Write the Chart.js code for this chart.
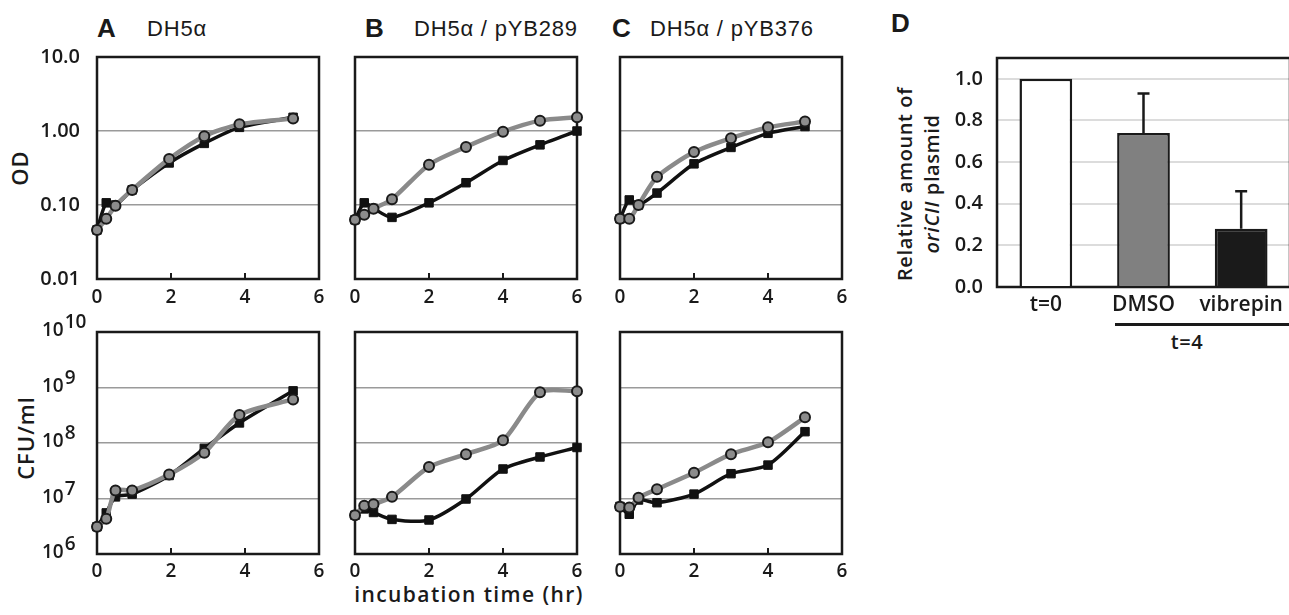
<!DOCTYPE html>
<html>
<head>
<meta charset="utf-8">
<script src="https://cdn.jsdelivr.net/npm/chart.js@4"></script>
<style>
    body { margin: 0; width: 1289px; height: 615px; overflow: hidden; background: #fff; position: relative; font-family: 'Open Sans', sans-serif; color: #1a1a1a; }
    canvas { position: absolute; }
    .lbl { position: absolute; white-space: nowrap; line-height: 1; }
    .head { font-family: 'Liberation Sans', Arial, sans-serif; }
    .letter { font-weight: bold; font-size: 26px; }
    .strain { font-size: 22px; letter-spacing: 0.8px; }
    .axt { font-weight: 600; font-size: 20px; }
    .rot { transform: translate(-50%, -50%) rotate(-90deg); text-align: center; }
</style>
</head>
<body>

<div class="lbl head letter" style="left:97px;top:15px">A</div>
<div class="lbl head strain" style="left:147px;top:18px">DH5α</div>
<div class="lbl head letter" style="left:365px;top:15px">B</div>
<div class="lbl head strain" style="left:414px;top:18px">DH5α / pYB289</div>
<div class="lbl head letter" style="left:612px;top:15px">C</div>
<div class="lbl head strain" style="left:650px;top:18px">DH5α / pYB376</div>
<div class="lbl head letter" style="left:891px;top:10px">D</div>

<div class="lbl axt rot" style="left:19px;top:168px;font-size:22px;letter-spacing:1px">OD</div>
<div class="lbl axt rot" style="left:25px;top:438px;font-size:22px;letter-spacing:1px">CFU/ml</div>
<div class="lbl axt" style="left:469px;top:584px;transform:translateX(-50%);font-size:21px;letter-spacing:1.4px">incubation time (hr)</div>
<div class="lbl axt rot" style="left:918px;top:184px;line-height:27px;letter-spacing:0.6px">
    <div>Relative amount of</div>
    <div><i>oriCII</i> plasmid</div>
</div>
<div style="position:absolute;left:1115px;top:323px;width:180px;height:3px;background:#1a1a1a"></div>
<div class="lbl axt" style="left:1187px;top:342px;transform:translate(-50%,-50%);letter-spacing:0.6px">t=4</div>

<canvas id="odA" width="339" height="292" style="left:0px;top:27px"></canvas>
<canvas id="odB" width="272" height="292" style="left:325px;top:27px"></canvas>
<canvas id="odC" width="272" height="292" style="left:590px;top:27px"></canvas>
<canvas id="cfuA" width="339" height="292" style="left:0px;top:302px"></canvas>
<canvas id="cfuB" width="272" height="292" style="left:325px;top:302px"></canvas>
<canvas id="cfuC" width="272" height="292" style="left:590px;top:302px"></canvas>
<canvas id="plasmid" width="430" height="299" style="left:870px;top:28px"></canvas>

<script>
// --- данные ---
const xTickValues = [0, 2, 4, 6];
const odTickValues = [0.01, 0.1, 1, 10];
const odTickLabels = ['0.01', '0.10', '1.00', '10.0'];
const cfuTickExponents = [6, 7, 8, 9, 10];

// A: DH5α
const timeA = [0, 0.25, 0.5, 0.95, 1.95, 2.9, 3.85, 5.3];
const odA_gray = [0.046, 0.065, 0.098, 0.16, 0.42, 0.85, 1.23, 1.47];
const odA_black = [0.046, 0.107, 0.10, 0.16, 0.37, 0.68, 1.12, 1.53];
const cfuA_gray = [3.1e6, 4.3e6, 1.4e7, 1.4e7, 2.7e7, 6.7e7, 3.2e8, 6.1e8];
const cfuA_black = [3.1e6, 5.5e6, 1.07e7, 1.2e7, 2.6e7, 8.0e7, 2.3e8, 8.7e8];

// B: DH5α / pYB289
const timeB = [0, 0.25, 0.5, 1, 2, 3, 4, 5, 6];
const odB_gray = [0.063, 0.074, 0.089, 0.12, 0.35, 0.61, 0.98, 1.38, 1.53];
const odB_black = [0.063, 0.107, 0.09, 0.068, 0.107, 0.20, 0.40, 0.65, 1.0];
const cfuB_gray = [5.0e6, 7.4e6, 7.9e6, 1.07e7, 3.7e7, 6.3e7, 1.12e8, 8.2e8, 8.6e8];
const cfuB_black = [5.0e6, 6.5e6, 5.6e6, 4.2e6, 4.1e6, 9.8e6, 3.4e7, 5.6e7, 8.3e7];

// C: DH5α / pYB376
const timeC = [0, 0.25, 0.5, 1, 2, 3, 4, 5];
const odC_gray = [0.065, 0.065, 0.10, 0.24, 0.52, 0.80, 1.12, 1.34];
const odC_black = [0.065, 0.117, 0.10, 0.145, 0.36, 0.60, 0.93, 1.15];
const cfuC_gray = [7.1e6, 6.9e6, 1.03e7, 1.47e7, 2.9e7, 6.3e7, 1.03e8, 2.9e8];
const cfuC_black = [7.2e6, 5.2e6, 9.4e6, 8.4e6, 1.2e7, 2.8e7, 4.0e7, 1.6e8];

// D: плазмида oriCII
const plasmidLabels = ['t=0', 'DMSO', 'vibrepin'];
const plasmidValues = [1.0, 0.74, 0.28];
const plasmidErrors = [0, 0.19, 0.18];
const plasmidTicks = [0, 0.2, 0.4, 0.6, 0.8, 1.0];

const INK = '#1a1a1a';
const tickFont = { family: 'Open Sans', weight: '600', size: 20 };

// рамка вокруг области графика + внутренние засечки по оси x
const framePlugin = {
    id: 'frame',
    beforeDatasetsDraw(chart, args, opts) {
        const { ctx, chartArea: a } = chart;
        ctx.save();
        ctx.strokeStyle = INK;
        ctx.lineWidth = 2.5;
        ctx.strokeRect(a.left, a.top, a.right - a.left, a.bottom - a.top);
        if (opts.innerTicks) {
            const x = chart.scales.x;
            ctx.lineWidth = 2;
            [2, 4].forEach(v => {
                const px = x.getPixelForValue(v);
                ctx.beginPath();
                ctx.moveTo(px, a.bottom);
                ctx.lineTo(px, a.bottom - 6);
                ctx.stroke();
            });
        }
        ctx.restore();
    }
};

// подписи 10^n для CFU
const cfuLabelPlugin = {
    id: 'cfuLabels',
    afterDraw(chart, args, opts) {
        if (!opts.show) return;
        const ctx = chart.ctx;
        const y = chart.scales.y;
        ctx.save();
        ctx.fillStyle = INK;
        ctx.font = '600 19px "Open Sans"';
        ctx.textBaseline = 'middle';
        ctx.textAlign = 'left';
        cfuTickExponents.forEach(e => {
            const py = y.getPixelForValue(Math.pow(10, e)) - 1;
            ctx.fillText('10', 42, py);
            const w = ctx.measureText('10').width;
            ctx.fillText(String(e), 42 + w + 1, py - 8);
        });
        ctx.restore();
    }
};

// планки погрешностей (только вверх)
const errorBarPlugin = {
    id: 'errorBars',
    afterDatasetsDraw(chart) {
        const ctx = chart.ctx;
        const y = chart.scales.y;
        const meta = chart.getDatasetMeta(0);
        ctx.save();
        ctx.strokeStyle = INK;
        ctx.lineWidth = 2.5;
        plasmidErrors.forEach((err, i) => {
            if (!err) return;
            const px = meta.data[i].x;
            const yBar = y.getPixelForValue(plasmidValues[i]);
            const yTop = y.getPixelForValue(plasmidValues[i] + err);
            ctx.beginPath();
            ctx.moveTo(px, yBar);
            ctx.lineTo(px, yTop);
            ctx.moveTo(px - 6, yTop);
            ctx.lineTo(px + 6, yTop);
            ctx.stroke();
        });
        ctx.restore();
    }
};

function toPoints(times, vals) {
    return times.map((t, i) => ({ x: t, y: vals[i] }));
}

function makeLinePanel(id, times, grayVals, blackVals, kind, isFirst) {
    const isOD = kind === 'od';
    const yW = isFirst ? 97 : 30;
    const yMin = isOD ? 0.01 : 1e6;
    const yMax = isOD ? 10 : 1e10;

    new Chart(document.getElementById(id), {
        type: 'line',
        data: {
            datasets: [
                {
                    data: toPoints(times, grayVals),
                    borderColor: '#8a8a8a',
                    borderWidth: 4.5,
                    pointStyle: 'circle',
                    pointRadius: 5,
                    pointBackgroundColor: '#8c8c8c',
                    pointBorderColor: INK,
                    pointBorderWidth: 2,
                    tension: 0.25,
                    clip: false
                },
                {
                    data: toPoints(times, blackVals),
                    borderColor: '#111',
                    borderWidth: 3.5,
                    pointStyle: 'rect',
                    pointRadius: 6,
                    pointBackgroundColor: '#111',
                    pointBorderColor: '#111',
                    pointBorderWidth: 1,
                    tension: 0.25,
                    clip: false
                }
            ]
        },
        options: {
            responsive: false,
            animation: false,
            layout: { padding: { top: 30, right: 20, left: 0, bottom: 0 } },
            plugins: {
                legend: { display: false },
                tooltip: { enabled: false },
                frame: { innerTicks: true },
                cfuLabels: { show: !isOD && isFirst }
            },
            scales: {
                x: {
                    type: 'linear',
                    min: 0,
                    max: 6,
                    afterBuildTicks: s => { s.ticks = xTickValues.map(v => ({ value: v })); },
                    afterFit: s => { s.height = 40; },
                    grid: { display: false, drawTicks: false },
                    border: { display: false },
                    ticks: { font: { family: 'Open Sans', weight: '600', size: 19 }, color: INK, padding: isOD ? 7 : 6, maxRotation: 0 }
                },
                y: {
                    type: 'logarithmic',
                    min: yMin,
                    max: yMax,
                    afterBuildTicks: s => {
                        s.ticks = isOD
                            ? odTickValues.map(v => ({ value: v }))
                            : cfuTickExponents.map(e => ({ value: Math.pow(10, e) }));
                    },
                    afterFit: s => { s.width = yW; },
                    grid: {
                        drawTicks: false,
                        lineWidth: 1.5,
                        color: c => (c.tick && (c.tick.value <= yMin * 1.001 || c.tick.value >= yMax * 0.999)) ? 'rgba(0,0,0,0)' : '#9a9a9a'
                    },
                    border: { display: false },
                    ticks: {
                        display: isOD && isFirst,
                        font: tickFont,
                        color: INK,
                        padding: 17,
                        callback: v => {
                            const i = odTickValues.indexOf(v);
                            return i >= 0 ? odTickLabels[i] : '';
                        }
                    }
                }
            }
        },
        plugins: [framePlugin, cfuLabelPlugin]
    });
}

makeLinePanel('odA', timeA, odA_gray, odA_black, 'od', true);
makeLinePanel('odB', timeB, odB_gray, odB_black, 'od', false);
makeLinePanel('odC', timeC, odC_gray, odC_black, 'od', false);
makeLinePanel('cfuA', timeA, cfuA_gray, cfuA_black, 'cfu', true);
makeLinePanel('cfuB', timeB, cfuB_gray, cfuB_black, 'cfu', false);
makeLinePanel('cfuC', timeC, cfuC_gray, cfuC_black, 'cfu', false);

new Chart(document.getElementById('plasmid'), {
    type: 'bar',
    data: {
        labels: plasmidLabels,
        datasets: [{
            data: plasmidValues,
            backgroundColor: ['#ffffff', '#808080', '#1a1a1a'],
            borderColor: INK,
            borderWidth: 2.5,
            categoryPercentage: 1,
            barPercentage: 0.54
        }]
    },
    options: {
        responsive: false,
        animation: false,
        layout: { padding: { top: 30, right: 10, left: 0, bottom: 0 } },
        plugins: {
            legend: { display: false },
            tooltip: { enabled: false },
            frame: { innerTicks: false }
        },
        scales: {
            x: {
                afterFit: s => { s.height = 40; },
                grid: { display: false, drawTicks: false },
                border: { display: false },
                ticks: { font: { family: 'Open Sans', weight: '600', size: 21 }, color: INK, padding: 5 }
            },
            y: {
                min: 0,
                max: 1.1,
                afterBuildTicks: s => { s.ticks = plasmidTicks.map(v => ({ value: v })); },
                afterFit: s => { s.width = 127; },
                grid: {
                    drawTicks: false,
                    lineWidth: 2,
                    color: c => (c.tick && c.tick.value === 0) ? 'rgba(0,0,0,0)' : '#dcdcdc'
                },
                border: { display: false },
                ticks: { font: tickFont, color: INK, padding: 14, callback: v => Number(v).toFixed(1) }
            }
        }
    },
    plugins: [framePlugin, errorBarPlugin]
});
</script>
</body>
</html>
